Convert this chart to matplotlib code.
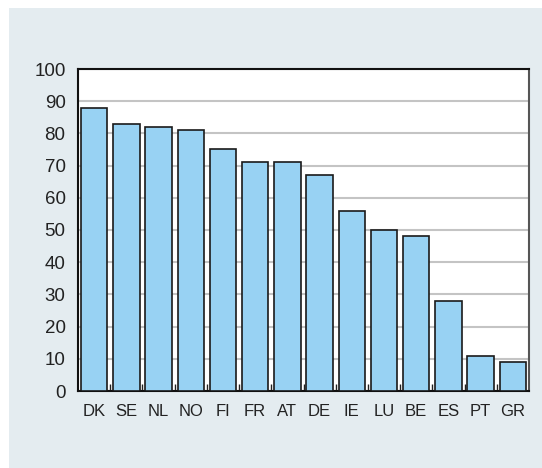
import matplotlib
matplotlib.use('Agg')
import matplotlib.pyplot as plt
from matplotlib.patches import Rectangle
import numpy as np

'''data'''
countries = ['DK', 'SE', 'NL', 'NO', 'FI', 'FR', 'AT', 'DE', 'IE', 'LU', 'BE', 'ES', 'PT', 'GR']
values = [88, 83, 82, 81, 75, 71, 71, 67, 56, 50, 48, 28, 11, 9]
yticks = [0, 10, 20, 30, 40, 50, 60, 70, 80, 90, 100]

plt.rcParams['font.family'] = ['Liberation Sans', 'DejaVu Sans']

fig = plt.figure(figsize=(5.42, 4.68), dpi=100)
fig.patch.set_facecolor('white')
'''background panel'''
fig.patches.append(Rectangle((9/542, 0), 1 - 9/542, 1 - 8/468, transform=fig.transFigure,
                             facecolor='#e4ecf0', edgecolor='none', zorder=-10))

ax = fig.add_axes([78/542, 1 - 391/468, (529 - 78)/542, (391 - 69)/468])
ax.set_zorder(5)
ax.set_facecolor('white')

x = np.arange(len(countries))
ax.bar(x, values, width=0.82, color='#98d2f3', edgecolor='#1a1a1a', linewidth=1.2, zorder=3)

ax.set_xlim(-0.5, len(countries) - 0.5)
ax.set_ylim(0, 100)
ax.set_yticks(yticks)
ax.set_yticklabels([str(v) for v in yticks], fontsize=13.5, color='#222222')
ax.yaxis.grid(True, color='#c4c4c4', linewidth=1.5, zorder=0)
ax.set_axisbelow(True)
ax.tick_params(axis='y', length=0, pad=9)

ax.set_xticks(x)
ax.set_xticklabels(countries, fontsize=12, color='#222222')
ax.tick_params(axis='x', length=0, pad=9)
ax.set_xticks(x[:-1] + 0.5, minor=True)
ax.tick_params(axis='x', which='minor', direction='in', length=5, width=1, color='#222222')

for s in ['left', 'bottom', 'top']:
    ax.spines[s].set_color('#111111')
    ax.spines[s].set_linewidth(1.5)
ax.spines['right'].set_color('#555555')
ax.spines['right'].set_linewidth(1.5)

plt.savefig('out.png', dpi=100)
